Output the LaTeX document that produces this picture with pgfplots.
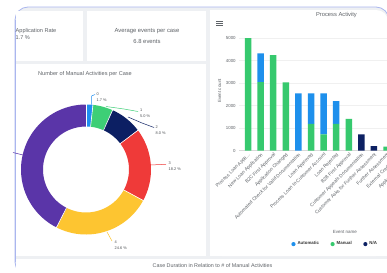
\documentclass[border=0pt]{standalone}
\usepackage{pgfplots}
\usepackage{pgfplotstable}
\pgfplotsset{compat=1.18}
\usepackage{fontspec}
\setmainfont{Liberation Sans}
\definecolor{cGreen}{HTML}{36C96E}
\definecolor{cBlue}{HTML}{1E90EC}
\definecolor{cNavy}{HTML}{0D2163}
\definecolor{pBlue}{HTML}{1F8EF1}
\definecolor{pGreen}{HTML}{3DCF76}
\definecolor{pNavy}{HTML}{0C1F63}
\definecolor{pRed}{HTML}{EF3A39}
\definecolor{pYellow}{HTML}{FDC531}
\definecolor{pPurple}{HTML}{5A35A8}
\definecolor{frameC}{HTML}{AAB6EE}
\definecolor{bgC}{HTML}{EEF0F3}
\definecolor{cardC}{HTML}{E3E6EA}
\definecolor{txtC}{HTML}{5F6368}

\pgfplotstableread{
x manual auto na
1 5000 0 0
2 3040 1280 0
3 4240 0 0
4 3030 0 0
5 0 2540 0
6 1180 1360 0
7 720 1820 0
8 1180 1020 0
9 1410 0 0
10 0 0 720
11 0 0 200
12 170 0 0
13 120 0 0
14 90 0 0
}\barData

\begin{document}
\begin{tikzpicture}
\useasboundingbox (0bp,0bp) rectangle (387bp,-273bp);
\clip (0bp,0bp) rectangle (387bp,-273bp);
\begin{scope}[x=1bp,y=-1bp]
\fill[white] (0,0) rectangle (387,273);
% outer frame
\draw[draw=frameC, fill=bgC, line width=0.8bp, rounded corners=13bp] (15,7) rectangle (389,275);
% cards
\fill[white] (16,11) rectangle (83,61);
\fill[white] (87,11) rectangle (206,61);
\fill[white] (16,64) rectangle (206,256);
\fill[white] (16,259) rectangle (388,274.5);
\fill[white, rounded corners=12bp] (210,10) rectangle (388.2,256);
\fill[white] (210,10) rectangle (370,256);
\fill[white] (210,30) rectangle (388.2,256);
\draw[draw=frameC, line width=0.8bp] (15,20) -- (15,262);
% KPI texts
\node[anchor=west, inner sep=0, text=txtC, font=\fontsize{5.6}{6}\selectfont] at (15.5,31) {Application Rate};
\node[anchor=west, inner sep=0, text=txtC, font=\fontsize{5.6}{6}\selectfont] at (15.5,38) {1.7 \%};
\node[inner sep=0, text=txtC, font=\fontsize{5.9}{6}\selectfont] at (147,31.5) {Average events per case};
\node[inner sep=0, text=txtC, font=\fontsize{5.9}{6}\selectfont] at (147,41.5) {6.8 events};
\node[inner sep=0, text=txtC, font=\fontsize{5.6}{6}\selectfont] at (85,74.3) {Number of Manual Activities per Case};
\node[inner sep=0, text=txtC, font=\fontsize{5.4}{6}\selectfont] at (212.5,266) {Case Duration in Relation to \# of Manual Activities};
% hamburger
\draw[txtC, line width=0.9bp] (216.3,21.5) -- (223,21.5) (216.3,23.4) -- (223,23.4) (216.3,25.3) -- (223,25.3);
\end{scope}

% donut
\begin{axis}[at={(86bp,-169.5bp)}, anchor=center, scale only axis, width=140bp, height=140bp,
  xmin=-70, xmax=70, ymin=-70, ymax=70, hide axis, clip=false]
\addplot[pBlue, line width=22bp, domain=0:1.7, samples=6] ({54*sin(3.6*x)},{54*cos(3.6*x)});
\addplot[pGreen, line width=22bp, domain=1.7:6.7, samples=10] ({54*sin(3.6*x)},{54*cos(3.6*x)});
\addplot[pNavy, line width=22bp, domain=6.7:14.7, samples=14] ({54*sin(3.6*x)},{54*cos(3.6*x)});
\addplot[pRed, line width=22bp, domain=14.7:32.9, samples=30] ({54*sin(3.6*x)},{54*cos(3.6*x)});
\addplot[pYellow, line width=22bp, domain=32.9:57.5, samples=40] ({54*sin(3.6*x)},{54*cos(3.6*x)});
\addplot[pPurple, line width=22bp, domain=57.5:100, samples=60] ({54*sin(3.6*x)},{54*cos(3.6*x)});
\foreach \b in {0,1.7,6.7,14.7,32.9,57.5}{
  \addplot[white, line width=0.6bp, domain=42.5:65.5, samples=2] ({x*sin(3.6*\b)},{x*cos(3.6*\b)});
}
\end{axis}

% bar chart
\begin{axis}[at={(239.2bp,-150.5bp)}, anchor=south west, scale only axis,
  width=181.4bp, height=117bp,
  xmin=0.3, xmax=14.7, ymin=0, ymax=5200,
  ybar stacked, bar width=6.5bp,
  axis x line*=bottom, axis y line*=left,
  x axis line style={draw=gray!30, line width=0.4bp},
  y axis line style={draw=none},
  ytick={0,1000,2000,3000,4000,5000},
  ymajorgrids, grid style={gray!12, line width=0.4bp},
  major tick length=0pt,
  scaled ticks=false,
  /pgf/number format/assume math mode=true,
  /pgf/number format/1000 sep={},
  y tick label style={font=\fontsize{4.4}{5}\selectfont, text=txtC},
  xtick={1,2,3,4,5,6,7,8,9,10,11,12,13,14},
  xticklabels={{Process Loan Appli\ldots},{New Loan Application},{B2C First Approval},{Application Changed},{Automated Check for Valid Documentation},{Loan Approved},{Process Loan to Customer Account},{Loan Rejected},{B2B First Approval},{Customer Appeals Documentation},{Customer Asks for Further Assessment},{Further Assessment},{External Credit Check},{Application Withdrawn}},
  x tick label style={rotate=45, anchor=north east, font=\fontsize{4.85}{5}\selectfont, text=txtC, inner sep=1.3bp},
  ylabel={Event count},
  ylabel style={at={(axis description cs:-0.1075,0.509)}, anchor=center, font=\fontsize{4.5}{5}\selectfont, text=txtC},
  xlabel={Event name},
  xlabel style={at={(axis description cs:0.583,-0.699)}, anchor=center, font=\fontsize{4.5}{5}\selectfont, text=txtC},
  title={Process Activity},
  title style={at={(axis description cs:0.536,1.107)}, anchor=center, font=\fontsize{5.8}{6}\selectfont, text=txtC},
  legend columns=3,
  legend style={at={(axis description cs:0.27,-0.80)}, anchor=west, draw=none, fill=none,
     font=\bfseries\fontsize{4.4}{5}\selectfont, text=black!80,
     /tikz/every even column/.append style={column sep=9.5bp}},
  legend image code/.code={\fill (0.05cm,0cm) circle (2.1bp);},
]
\addplot[fill=cGreen, draw=none, forget plot] table[x=x, y=manual] {\barData};
\addplot[fill=cBlue, draw=none, forget plot] table[x=x, y=auto] {\barData};
\addplot[fill=cNavy, draw=none, forget plot] table[x=x, y=na] {\barData};
\addlegendimage{fill=cBlue, draw=none}
\addlegendentry{Automatic}
\addlegendimage{fill=cGreen, draw=none}
\addlegendentry{Manual}
\addlegendimage{fill=cNavy, draw=none}
\addlegendentry{N/A}
\end{axis}

\begin{scope}[x=1bp,y=-1bp]
% leader lines
\draw[pBlue, line width=0.5bp] (91.6,104.5) -- (91.6,96) -- (95,94.5);
\draw[pGreen, line width=0.5bp] (106,106.5) -- (124,109) -- (138,111.5);
\draw[pNavy, line width=0.5bp] (128,117) -- (142,123) -- (154,127.5);
\draw[pRed, line width=0.5bp] (150,165) -- (166,164.3);
\draw[pYellow, line width=0.5bp] (107,232) -- (112,241);
\draw[pPurple, line width=0.5bp] (23,155) -- (13,152.5);
\begin{scope}[every node/.style={anchor=north west, inner sep=0, align=left, text=txtC!80!black, font=\fontsize{3.9}{5.8}\selectfont}]
\node at (96.5,92.5) {0\\1.7 \%};
\node at (140,109) {1\\5.0 \%};
\node at (155.5,125.5) {2\\8.0 \%};
\node at (168.5,162) {3\\18.2 \%};
\node at (114.5,240.5) {4\\24.6 \%};
\end{scope}
\end{scope}
\end{tikzpicture}
\end{document}
